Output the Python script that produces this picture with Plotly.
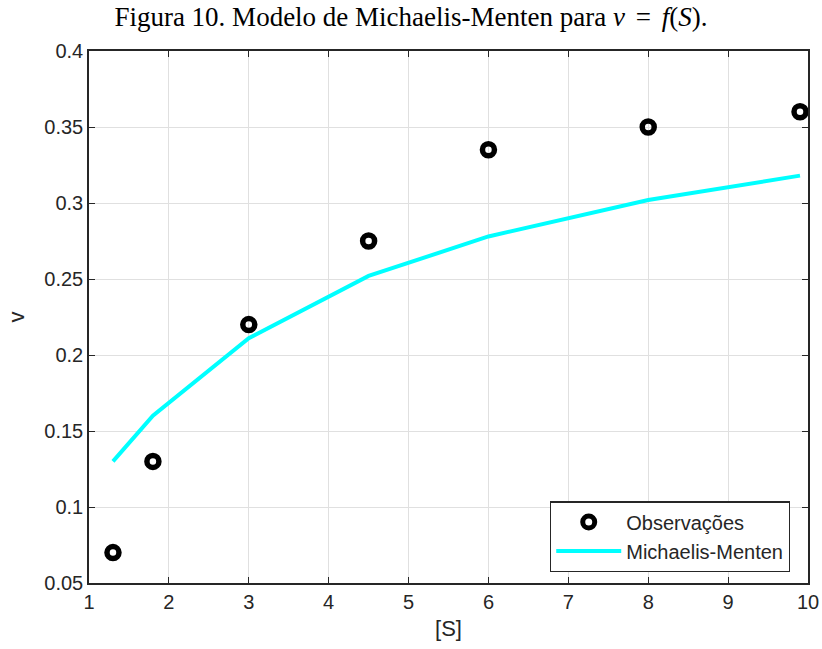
import plotly.graph_objects as go

# Substrate concentrations [S]
s_obs = [1.3, 1.8, 3.0, 4.5, 6.0, 8.0, 9.9]
# Observed reaction rates v
v_obs = [0.07, 0.13, 0.22, 0.275, 0.335, 0.35, 0.36]
# Michaelis-Menten model rates at the same [S]
v_model = [0.13, 0.16, 0.211, 0.252, 0.278, 0.302, 0.318]

x_ticks = [1, 2, 3, 4, 5, 6, 7, 8, 9, 10]
y_ticks = [0.05, 0.1, 0.15, 0.2, 0.25, 0.3, 0.35, 0.4]
y_tick_text = ["0.05", "0.1", "0.15", "0.2", "0.25", "0.3", "0.35", "0.4"]

sans = "Liberation Sans, Arial, sans-serif"
serif = "Liberation Serif, Times New Roman, serif"
ink = "#262626"

fig = go.Figure()
fig.add_trace(go.Scatter(
    x=s_obs, y=v_obs, mode="markers", name="Observações",
    marker=dict(symbol="circle-open", size=12, color="black",
                line=dict(width=5.5, color="black")),
))
fig.add_trace(go.Scatter(
    x=s_obs, y=v_model, mode="lines", name="Michaelis-Menten",
    line=dict(color="#00FFFF", width=4),
))

axis_common = dict(
    showline=True, linecolor=ink, linewidth=1.5, mirror="ticks",
    ticks="inside", ticklen=6, tickcolor=ink, automargin=False,
    showgrid=True, gridcolor="#e0e0e0", gridwidth=1,
    zeroline=False, tickfont=dict(family=sans, size=20, color=ink),
)

fig.update_layout(
    width=822, height=649,
    margin=dict(l=89, r=14, t=51, b=66),
    paper_bgcolor="white", plot_bgcolor="white",
    title=dict(
        text="Figura 10. Modelo de Michaelis-Menten para <i>v</i>\u2009\u2009=\u2009\u2009<i>f</i>(<i>S</i>).",
        font=dict(family=serif, size=27, color="black"),
        x=0.5, xanchor="center", y=0.975, yanchor="middle",
    ),
    xaxis=dict(axis_common, range=[1, 10], tickvals=x_ticks,
               title=dict(text="[S]", font=dict(family=sans, size=22, color=ink),
                          standoff=9)),
    yaxis=dict(axis_common, range=[0.05, 0.4], tickvals=y_ticks, ticktext=y_tick_text,
               title=dict(text="v", font=dict(family=sans, size=22, color=ink),
                          standoff=14)),
    legend=dict(
        x=0.975, y=0.02, xanchor="right", yanchor="bottom",
        bgcolor="white", bordercolor=ink, borderwidth=1.2,
        font=dict(family=sans, size=20, color=ink),
        tracegroupgap=0, itemwidth=65,
    ),
    showlegend=True,
)

fig.write_html("out.html")
